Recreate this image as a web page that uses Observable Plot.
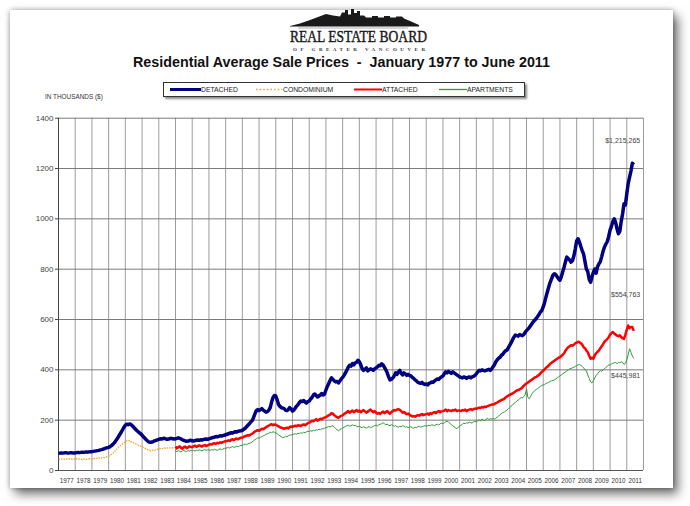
<!DOCTYPE html>
<html>
<head>
<meta charset="utf-8">
<script src="https://cdn.jsdelivr.net/npm/d3@7"></script>
<script src="https://cdn.jsdelivr.net/npm/@observablehq/plot@0.6"></script>
<style>
  html, body { margin: 0; padding: 0; background: #ffffff; width: 690px; height: 506px; overflow: hidden; }
  body { position: relative; font-family: Arial, "Liberation Sans", sans-serif; }
  .card { position: absolute; left: 10px; top: 10px; width: 663px; height: 478px; background: #fff;
          box-shadow: 0 0 5px rgba(0,0,0,0.35), 5px 6px 10px rgba(0,0,0,0.55); }
  .abs { position: absolute; }
  #title { left: 0; width: 683px; top: 54px; text-align: center; white-space: pre;
           font-family: "Liberation Sans Narrow", "Arial Narrow", Arial, sans-serif; font-weight: bold;
           font-size: 14.3px; color: #111; }
  #legend { left: 163px; top: 82px; width: 360px; height: 13px; border: 1px solid #333; background: #fff;
            box-shadow: 2px 2px 2px rgba(0,0,0,0.45); }
  .lgtext { position: absolute; top: 3px; font-size: 6.8px; color: #222; white-space: nowrap; }
  #units { left: 45px; top: 93px; font-size: 6.4px; color: #333; white-space: nowrap; }
</style>
</head>
<body>
<div class="card"></div>

<svg class="abs" style="left:0;top:0" width="690" height="56" id="logo">
  <polygon fill="#1a1a1a" points="290,26 300,23.5 310,20 318,17 326,14 333,15.5 340,16.5 342,12.5 345,12.5 345,10 348,10 348,14.5 351,14.5 351,9 354,9 354,13 357,13 357,11 360,11 360,15.5 364,15.5 366,17.5 372,17.5 372,16 378,16 378,17.5 384,17.5 384,16 390,16 390,17.5 396,17.5 396,16.5 402,16.5 404,18.5 410,21 419,25 419,26.5 290,26.5"/>
  <line x1="298" y1="28" x2="408" y2="28" stroke="#777" stroke-width="0.6"/>
  <text x="290" y="41.5" textLength="137" lengthAdjust="spacingAndGlyphs"
        font-family="'Liberation Serif', 'DejaVu Serif', serif" font-size="17.5" fill="#1a1a1a"
        stroke="#1a1a1a" stroke-width="0.45">REAL ESTATE BOARD</text>
  <text x="293" y="50.8" textLength="132" lengthAdjust="spacing"
        font-family="'Liberation Serif', 'DejaVu Serif', serif" font-size="5" font-weight="bold" fill="#333">OF GREATER VANCOUVER</text>
</svg>

<div id="title" class="abs">Residential Average Sale Prices  -  January 1977 to June 2011</div>
<div id="legend" class="abs"></div>
<div id="units" class="abs">IN THOUSANDS ($)</div>
<div id="chart" class="abs" style="left:0;top:100px"></div>

<script>
// ---------- DATA (thousands of dollars, monthly) ----------
const xYears = [1977,1978,1979,1980,1981,1982,1983,1984,1985,1986,1987,1988,1989,1990,1991,1992,1993,1994,
                1995,1996,1997,1998,1999,2000,2001,2002,2003,2004,2005,2006,2007,2008,2009,2010,2011];
const yTicks = [0,200,400,600,800,1000,1200,1400];

const seriesNames = ["DETACHED","CONDOMINIUM","ATTACHED","APARTMENTS"];

const detachedStart = 1977;
const detached = [
  68,69,70,69,70,71,70,69,70,71,70,70,          // 1977
  70,71,72,71,72,73,72,73,74,73,74,75,          // 1978
  75,76,77,78,79,80,82,83,85,87,89,91,          // 1979
  92,95,99,104,110,117,125,134,143,152,162,172, // 1980
  180,184,182,185,183,178,172,166,160,155,150,146, // 1981
  140,134,128,122,117,113,112,113,115,118,120,122, // 1982
  124,126,125,127,128,126,124,125,127,128,126,125, // 1983
  126,128,130,128,125,122,120,118,116,117,119,120, // 1984
  118,117,119,120,121,120,122,121,123,124,125,124, // 1985
  126,128,130,131,133,135,134,136,138,137,139,140, // 1986
  142,144,146,148,150,149,152,154,153,156,157,158, // 1987
  160,164,168,174,180,186,192,198,210,225,238,242, // 1988
  238,242,246,240,236,232,234,240,250,272,290,298, // 1989
  296,280,262,255,250,248,246,240,238,242,250,244, // 1990
  236,240,248,256,262,270,276,274,278,272,268,274, // 1991
  276,284,290,300,304,298,292,296,300,306,300,304, // 1992
  320,334,346,358,368,362,356,352,354,348,356,364, // 1993
  370,378,388,398,410,418,415,425,420,428,430,438, // 1994
  432,420,405,398,402,408,396,400,404,402,398,404, // 1995
  408,412,418,416,424,420,410,400,388,372,360,362, // 1996
  368,376,388,382,392,398,386,380,388,384,378,382, // 1997
  378,376,370,366,360,356,350,348,346,350,344,342, // 1998
  344,340,346,348,352,350,356,360,364,362,368,372, // 1999
  376,384,392,388,394,390,386,392,388,384,380,376, // 2000
  372,370,368,372,370,366,370,372,368,372,374,378, // 2001
  384,392,398,396,400,398,396,398,400,402,398,404, // 2002
  412,420,432,440,446,450,458,462,470,476,478,488, // 2003
  498,508,520,530,538,536,534,540,538,536,540,548, // 2004
  556,562,568,576,584,592,598,604,612,620,630,636, // 2005
  650,668,690,710,730,748,762,776,782,778,770,762, // 2006
  756,770,790,808,830,848,842,836,828,834,852,880, // 2007
  912,921,908,890,874,860,830,800,790,760,748,770, // 2008
  788,800,784,810,822,830,850,872,888,900,910,930, // 2009
  955,970,990,1000,985,960,941,950,990,1020,1060,1055, // 2010
  1100,1140,1166,1190,1221,1215.265             // 2011 (Jan-Jun)
];

const condoStart = 1977;
const condominium = [
  46,44,45,47,45,44,46,45,47,46,44,45,   // 1977
  45,47,44,46,45,43,45,46,44,45,47,46,   // 1978
  45,46,48,47,49,50,48,50,52,51,53,55,   // 1979
  57,60,64,68,74,80,86,92,97,101,106,110, // 1980
  114,118,116,119,114,112,110,107,104,101,99,97, // 1981
  95,92,89,86,83,81,79,80,82,81,83,84,   // 1982
  85,87,86,88,90,88,89,91,90,88,90,92    // 1983
];

const attachedStart = 1984;
const attached = [
  95,88,92,96,90,87,93,95,89,92,96,94,          // 1984
  92,96,99,94,97,100,98,95,99,101,97,100,       // 1985
  102,105,103,107,108,106,110,108,112,110,113,115, // 1986
  116,118,120,117,122,124,121,125,127,124,128,130, // 1987
  131,134,136,138,140,139,143,146,150,155,158,160, // 1988
  158,162,166,164,168,172,175,178,182,184,180,183, // 1989
  182,178,175,172,170,168,166,168,170,167,172,175, // 1990
  174,176,178,176,180,179,177,181,183,180,184,188, // 1991
  190,194,198,196,200,204,198,202,206,204,208,210, // 1992
  212,216,219,222,228,226,220,215,212,209,214,218, // 1993
  219,224,228,232,236,230,234,238,232,236,240,234, // 1994
  238,232,236,240,235,230,234,238,242,236,232,236, // 1995
  230,226,228,225,230,234,228,232,236,230,226,232, // 1996
  236,240,238,242,244,241,236,230,232,228,224,226, // 1997
  222,218,215,216,214,217,220,218,222,224,220,222, // 1998
  224,226,222,228,225,230,232,228,234,236,232,235, // 1999
  236,238,242,236,240,238,236,240,238,242,236,238, // 2000
  238,236,240,238,242,236,240,242,244,240,244,246, // 2001
  245,248,250,248,252,250,254,252,256,258,260,262, // 2002
  262,265,268,270,274,276,280,282,285,290,294,298, // 2003
  300,304,306,310,314,318,320,322,325,330,336,342, // 2004
  346,350,354,358,362,366,370,372,376,380,386,392, // 2005
  396,402,408,412,418,424,428,432,436,440,444,448, // 2006
  450,455,460,466,476,484,490,494,498,496,500,505, // 2007
  508,512,510,506,500,490,486,476,470,456,444,448, // 2008
  444,458,466,472,477,486,494,502,512,517,522,530, // 2009
  540,546,550,544,540,536,534,537,530,526,523,540, // 2010
  560,576,566,570,570,554.763                     // 2011 (Jan-Jun)
];

const apartmentsStart = 1984;
const apartments = [
  77,75,79,76,74,78,80,76,75,79,77,80,          // 1984
  78,80,77,81,79,82,80,78,81,83,80,82,          // 1985
  82,80,83,81,84,82,80,84,86,83,85,88,          // 1986
  88,90,92,89,93,95,92,94,97,95,98,100,         // 1987
  100,103,105,102,106,108,110,114,118,122,126,130, // 1988
  128,132,135,138,140,144,146,148,152,150,154,152, // 1989
  150,146,142,138,134,130,132,136,134,138,140,142, // 1990
  142,144,146,144,148,147,150,148,152,150,154,156, // 1991
  155,158,156,160,158,162,160,164,162,166,165,168, // 1992
  170,172,175,173,176,178,172,166,162,158,162,166, // 1993
  168,172,175,178,180,176,178,182,178,180,176,174, // 1994
  176,172,170,174,171,168,172,175,170,172,176,178, // 1995
  180,178,182,184,186,190,186,182,184,180,178,182, // 1996
  180,176,178,174,172,176,174,178,176,172,174,170, // 1997
  172,174,170,168,172,170,174,176,172,174,176,178, // 1998
  176,178,180,178,182,180,178,182,184,180,186,188, // 1999
  186,190,194,196,192,188,182,178,174,170,166,172, // 2000
  176,180,184,188,186,190,188,192,190,188,194,196, // 2001
  192,198,202,196,205,200,198,204,208,202,206,205, // 2002
  206,204,208,212,216,222,226,230,232,236,240,246, // 2003
  250,256,262,266,270,276,280,284,290,288,294,300, // 2004
  325,290,285,295,305,312,318,322,326,330,334,338, // 2005
  340,342,346,348,350,354,356,358,360,364,368,372, // 2006
  376,380,384,388,392,396,400,404,406,408,410,414, // 2007
  416,420,421,418,414,408,400,396,380,366,352,348, // 2008
  356,368,378,384,392,397,394,400,404,410,414,420, // 2009
  418,424,426,428,430,424,430,428,432,430,421,425, // 2010
  440,460,484,470,455,445.981                     // 2011 (Jan-Jun)
];

const endLabels = ["$1,215,265", "$554,763", "$445,981"];

// ---------- STYLES ----------
const style = {
  DETACHED:    {stroke: "#000080", width: 3.5, dash: null},
  CONDOMINIUM: {stroke: "#f0a22a", width: 1.2, dash: "1.6,1"},
  ATTACHED:    {stroke: "#ff0000", width: 2.5, dash: null},
  APARTMENTS:  {stroke: "#2f9a3a", width: 1.0, dash: null}
};

function rows(values, start) {
  return values.map((v, i) => ({t: start + i / 12, v}));
}
const detRows = rows(detached, detachedStart);
const conRows = rows(condominium, condoStart);
const attRows = rows(attached, attachedStart);
const aptRows = rows(apartments, apartmentsStart);

const gridX = xYears.concat([xYears[xYears.length - 1] + 1]);

const lineMark = (data, name) => Plot.line(data, {
  x: "t", y: "v", stroke: style[name].stroke, strokeWidth: style[name].width,
  strokeDasharray: style[name].dash || undefined, strokeLinejoin: "round", strokeLinecap: "butt"
});

const chart = Plot.plot({
  width: 690,
  height: 390,
  marginLeft: 58,
  marginRight: 47,
  marginTop: 17.7,
  marginBottom: 20,
  style: {background: "transparent", fontFamily: "Arial, 'Liberation Sans', sans-serif", color: "#333", overflow: "visible"},
  x: {domain: [gridX[0], gridX[gridX.length - 1]], axis: null},
  y: {domain: [yTicks[0], yTicks[yTicks.length - 1]], axis: null},
  marks: [
    Plot.ruleX(gridX, {stroke: "#9c9c9c", strokeWidth: 1}),
    Plot.ruleY(yTicks, {stroke: "#7a7a7a", strokeWidth: 1}),
    Plot.ruleX([gridX[0]], {stroke: "#444", strokeWidth: 1}),
    Plot.ruleY([0], {stroke: "#555", strokeWidth: 1.2}),
    lineMark(conRows, "CONDOMINIUM"),
    lineMark(aptRows, "APARTMENTS"),
    lineMark(attRows, "ATTACHED"),
    lineMark(detRows, "DETACHED"),
    Plot.axisY(yTicks, {tickSize: 3, tickPadding: 2, fontSize: 8, label: null, stroke: "#444", fill: "#444",
      tickFormat: d => String(d)}),
    Plot.axisX(xYears.map(y => y + 0.5), {tickSize: 0, tickPadding: 8, fontSize: 6.3, label: null,
      tickFormat: d => String(Math.floor(d)), fill: "#333"}),
    Plot.text([detRows[detRows.length - 1]], {x: "t", y: "v", text: () => endLabels[0], dx: 6.5, dy: -24,
      textAnchor: "end", fontSize: 7, fill: "#444"}),
    Plot.text([attRows[attRows.length - 1]], {x: "t", y: "v", text: () => endLabels[1], dx: 6.5, dy: -36,
      textAnchor: "end", fontSize: 7, fill: "#444"}),
    Plot.text([aptRows[aptRows.length - 1]], {x: "t", y: "v", text: () => endLabels[2], dx: 6.5, dy: 17,
      textAnchor: "end", fontSize: 7, fill: "#444"})
  ]
});
document.getElementById("chart").appendChild(chart);

// ---------- LEGEND ----------
const legend = document.getElementById("legend");
const lgPos = [
  {sx: 6, sw: 31, tx: 37},
  {sx: 92, sw: 26, tx: 119},
  {sx: 190, sw: 28, tx: 218},
  {sx: 275, sw: 28, tx: 303}
];
seriesNames.forEach((name, i) => {
  const p = lgPos[i], s = style[name];
  const svgNS = "http://www.w3.org/2000/svg";
  const sw = document.createElementNS(svgNS, "svg");
  sw.setAttribute("width", p.sw); sw.setAttribute("height", 13);
  sw.style.position = "absolute"; sw.style.left = p.sx + "px"; sw.style.top = "0px";
  const ln = document.createElementNS(svgNS, "line");
  ln.setAttribute("x1", 0); ln.setAttribute("x2", p.sw);
  ln.setAttribute("y1", 6.5); ln.setAttribute("y2", 6.5);
  ln.setAttribute("stroke", s.stroke);
  ln.setAttribute("stroke-width", name === "DETACHED" ? 3 : name === "ATTACHED" ? 2 : 1.3);
  if (s.dash) ln.setAttribute("stroke-dasharray", "1.6,2");
  sw.appendChild(ln);
  legend.appendChild(sw);
  const t = document.createElement("div");
  t.className = "lgtext"; t.style.left = p.tx + "px"; t.textContent = name;
  legend.appendChild(t);
});
</script>
</body>
</html>
